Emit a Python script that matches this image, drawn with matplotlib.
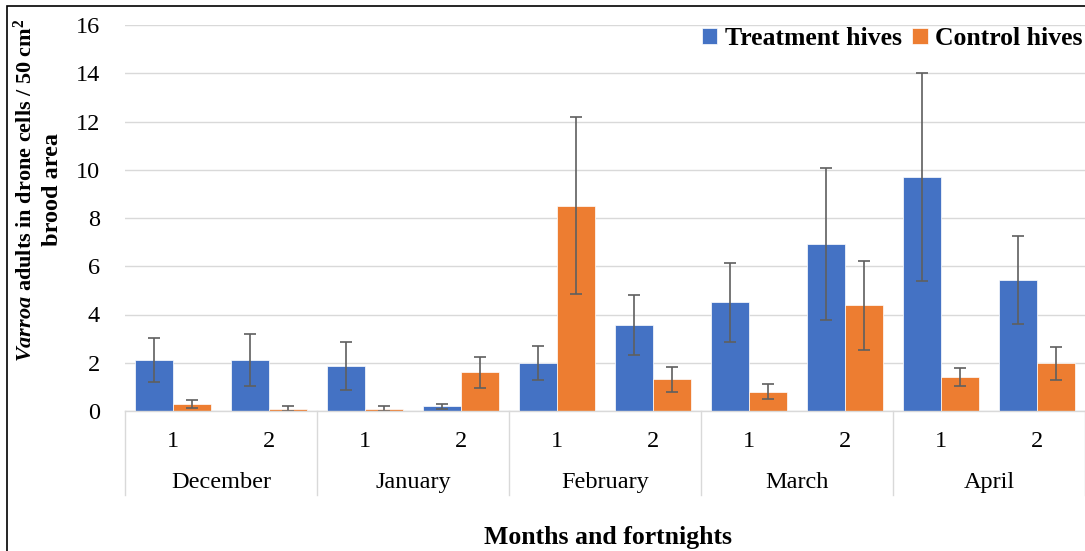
import matplotlib
matplotlib.use("Agg")
import matplotlib.pyplot as plt
from matplotlib.transforms import blended_transform_factory
from matplotlib.patches import Rectangle
from matplotlib.lines import Line2D

plt.rcParams['font.family'] = ['Liberation Serif', 'DejaVu Serif']
plt.rcParams['mathtext.fontset'] = 'custom'
plt.rcParams['mathtext.rm'] = 'Liberation Serif:bold'
plt.rcParams['mathtext.it'] = 'Liberation Serif:italic:bold'
plt.rcParams['mathtext.bf'] = 'Liberation Serif:bold'

months = ["December", "January", "February", "March", "April"]
fortnights = ["1", "2"]
treatment = [2.12, 2.12, 1.88, 0.19, 1.98, 3.56, 4.51, 6.92, 9.70, 5.42]
treatment_err = [0.90, 1.08, 1.00, 0.12, 0.70, 1.25, 1.64, 3.15, 4.33, 1.83]
control = [0.28, 0.10, 0.10, 1.61, 8.51, 1.31, 0.80, 4.38, 1.41, 1.98]
control_err = [0.17, 0.12, 0.12, 0.64, 3.66, 0.52, 0.30, 1.85, 0.37, 0.68]
yticks = [0, 2, 4, 6, 8, 10, 12, 14, 16]

W, H = 1085, 551
fig = plt.figure(figsize=(W / 100, H / 100), dpi=100)
ax = fig.add_axes([125 / W, 1 - 411 / H, 960 / W, (411 - 25) / H])

n = len(treatment)
xs = list(range(n))
bw = 0.4
blue = "#4472C4"
orange = "#ED7D31"
ekw = dict(ecolor="#5f5f5f", elinewidth=1.2, capsize=4.5, capthick=1.2)
ax.bar([x - bw / 2 for x in xs], treatment, width=bw, color=blue,
       edgecolor="white", linewidth=0.5, yerr=treatment_err, error_kw=ekw,
       label="Treatment hives", zorder=2)
ax.bar([x + bw / 2 for x in xs], control, width=bw, color=orange,
       edgecolor="white", linewidth=0.5, yerr=control_err, error_kw=ekw,
       label="Control hives", zorder=2)

ax.set_xlim(-0.5, n - 0.5)
ax.set_ylim(0, 16)
ax.set_yticks(yticks)
ax.set_yticklabels([str(v) for v in yticks], fontsize=17.5)
ax.tick_params(axis='y', length=0, pad=18)
ax.set_xticks([])
ax.grid(axis='y', color="#d9d9d9", linewidth=1.0, zorder=0)
ax.set_axisbelow(True)
for s in ["top", "right", "left"]:
    ax.spines[s].set_visible(False)
ax.spines["bottom"].set_color("#d9d9d9")
ax.spines["bottom"].set_linewidth(1.0)

tr = blended_transform_factory(ax.transData, ax.transAxes)
axh = 411 - 25
sub_y = (411 - 447) / axh
mon_y = (411 - 488) / axh
sep_y = (411 - 495) / axh
for i in xs:
    ax.text(i, sub_y, fortnights[i % 2], transform=tr, ha="center", va="baseline", fontsize=17.5)
for j, m in enumerate(months):
    ax.text(2 * j + 0.5, mon_y, m, transform=tr, ha="center", va="baseline", fontsize=17.5)
for k in range(len(months) + 1):
    xk = 2 * k - 0.5
    ax.add_line(Line2D([xk, xk], [0, sep_y], transform=tr, color="#d9d9d9",
                       linewidth=1.0, clip_on=False))

fig.text(608 / W, 1 - 544 / H, "Months and fortnights", ha="center", va="baseline",
         fontsize=18.5, fontweight="bold")
fig.text(25 / W, 1 - 190 / H,
         "$\\mathit{Varroa}$ adults in drone cells / 50 cm$^{2}$",
         rotation=90, ha="center", va="center", fontsize=16, fontweight="bold")
fig.text(53 / W, 1 - 190 / H, "brood area",
         rotation=90, ha="center", va="center", fontsize=17.5, fontweight="bold")

ax.legend(loc="upper right", bbox_to_anchor=(0.998, 1 - 27 / H), bbox_transform=fig.transFigure,
          ncol=2, frameon=False, prop={'weight': 'bold', 'size': 18.5},
          handlelength=0.6, handleheight=0.6, handletextpad=0.3, columnspacing=0.4,
          borderaxespad=0.0, borderpad=0.0)

fig.patches.append(Rectangle((7 / W, -0.05), 1.1, 1 - 6 / H + 0.05, transform=fig.transFigure,
                             fill=False, edgecolor="black", linewidth=1.2, clip_on=False))

fig.savefig("out.png", dpi=100)
